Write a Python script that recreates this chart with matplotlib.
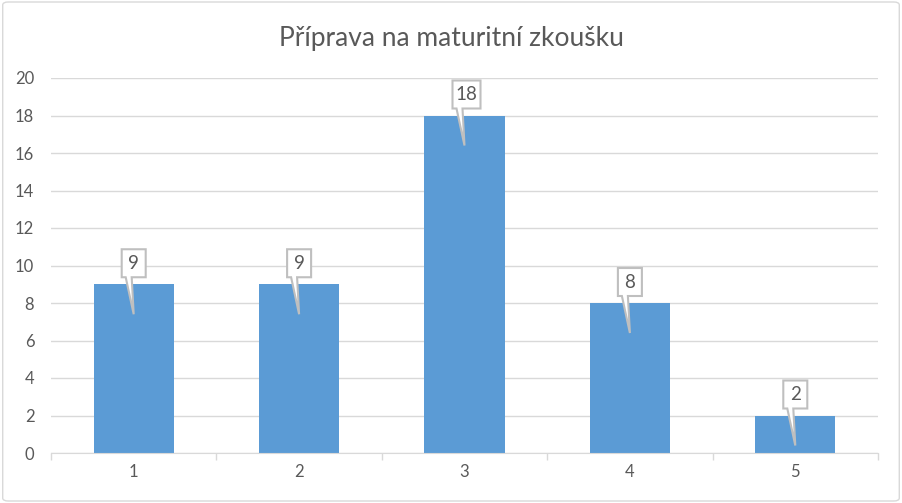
import matplotlib.pyplot as plt
import matplotlib.patches as mpatches
import matplotlib.transforms as mtransforms

plt.rcParams['font.family'] = ['Lato', 'DejaVu Sans']

categories = ['1', '2', '3', '4', '5']
values = [9, 9, 18, 8, 2]
title = 'Příprava na maturitní zkoušku'

text_col = '#595959'
grid_col = '#d9d9d9'
bar_col = '#5b9bd5'

fig = plt.figure(figsize=(9.02, 5.03), dpi=100)
ax = fig.add_axes([51 / 902, 50 / 503, 827 / 902, 375 / 503])

x = list(range(1, len(categories) + 1))
ax.bar(x, values, width=0.485, color=bar_col, zorder=2)

ax.set_xlim(0.5, len(categories) + 0.5)
ax.set_ylim(0, 20)
ax.set_yticks(range(0, 21, 2))
ax.set_xticks(x)
ax.set_xticklabels(categories)
ax.set_xticks([i + 0.5 for i in range(0, len(categories) + 1)], minor=True)
ax.tick_params(axis='x', which='major', length=0, pad=8, labelsize=12, labelcolor=text_col)
ax.tick_params(axis='x', which='minor', length=5, color=grid_col, width=1)
ax.tick_params(axis='y', length=0, pad=12, labelsize=12, labelcolor=text_col)
ax.grid(axis='y', color=grid_col, linewidth=1, zorder=0)
for s in ['left', 'right', 'top']:
    ax.spines[s].set_visible(False)
ax.spines['bottom'].set_color(grid_col)
ax.spines['bottom'].set_zorder(3)

fig.suptitle(title, x=0.5, y=0.948, fontsize=19, color=text_col)

# callout labels (pixel offsets from bar top)
for xi, v in zip(x, values):
    lbl = str(v)
    half = 12 if len(lbl) == 1 else 14
    off = 0 if len(lbl) == 1 else 2
    left, right = -half + off, half + off
    bot, top = 7, 35
    verts = [(left, bot), (-8, bot), (0, -30), (-2, bot), (right, bot),
             (right, top), (left, top), (left, bot)]
    tr = mtransforms.Affine2D() + mtransforms.ScaledTranslation(xi, v, ax.transData)
    poly = mpatches.Polygon(verts, closed=True, transform=tr, facecolor='white',
                            edgecolor='#bfbfbf', linewidth=1.5, zorder=4,
                            joinstyle='miter', clip_on=False)
    ax.add_patch(poly)
    ttr = mtransforms.ScaledTranslation(off / 100, 21 / 100, fig.dpi_scale_trans)
    ax.text(xi, v, lbl, transform=ax.transData + ttr, ha='center', va='center',
            fontsize=13.5, color=text_col, zorder=5)

border = mpatches.FancyBboxPatch((0.003, 0.004), 0.994, 0.992, boxstyle='round,pad=0,rounding_size=0.006',
                                 transform=fig.transFigure, facecolor='none',
                                 edgecolor=grid_col, linewidth=1)
fig.patches.append(border)

fig.savefig('out.png', dpi=100)
